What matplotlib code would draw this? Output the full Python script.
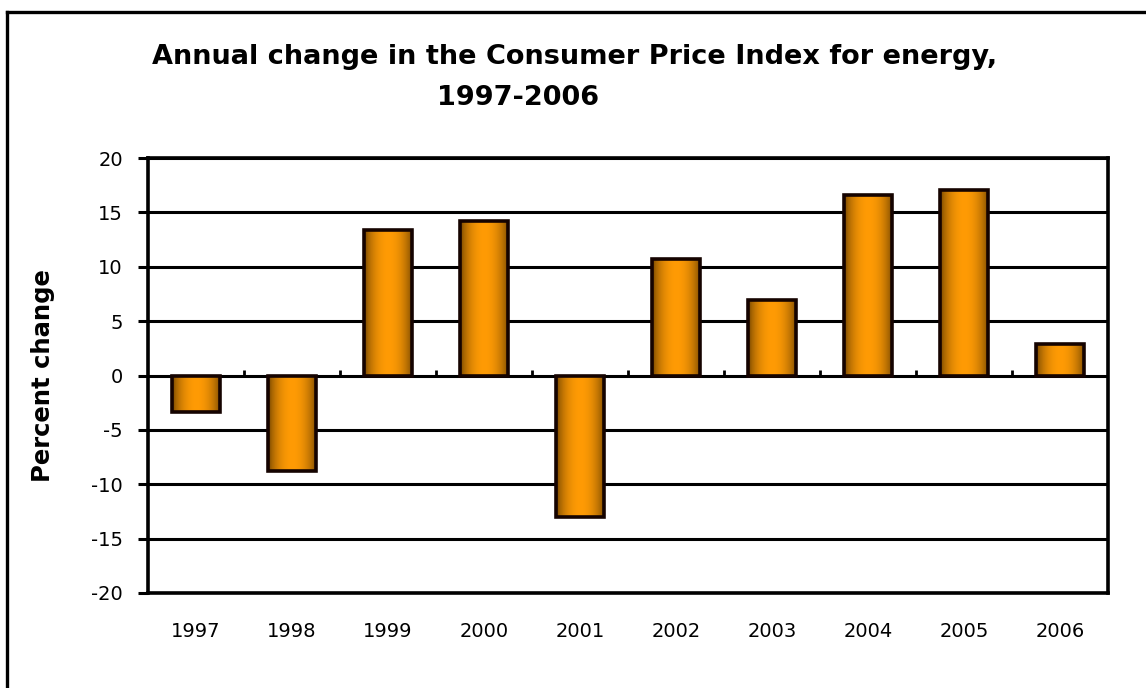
import numpy as np
import matplotlib
matplotlib.use('Agg')
from matplotlib import pyplot as plt
from matplotlib.patches import Rectangle
from matplotlib.lines import Line2D

plt.rcParams['font.family'] = ['DejaVu Sans']

years = ['1997', '1998', '1999', '2000', '2001', '2002', '2003', '2004', '2005', '2006']
change = [-3.4, -8.8, 13.4, 14.2, -13.0, 10.7, 6.9, 16.6, 17.1, 2.9]
yticks = [-20, -15, -10, -5, 0, 5, 10, 15, 20]

W, H = 1146, 688
fig = plt.figure(figsize=(W/100., H/100.), dpi=100)
fig.patch.set_facecolor('white')

# plot area in pixel terms
l, r, t, b = 148, 1108, 158, 593
ax = fig.add_axes([l/W, (H-b)/H, (r-l)/W, (b-t)/H])

n = len(years)
x = np.arange(n)
bw = 0.51

# horizontal gridlines
for yv in yticks:
    ax.axhline(yv, color='black', lw=2.2, zorder=1)

# gradient fill across each bar: dark edges, bright middle
u = np.linspace(0, 1, 64)
prof = np.sin(np.pi*u)**0.6
dark = np.array([100, 60, 0])/255.
bright = np.array([255, 155, 5])/255.
grad = dark[None, :]*(1-prof[:, None]) + bright[None, :]*prof[:, None]
grad = grad[None, :, :]

bars = ax.bar(x, change, width=bw, facecolor='none', edgecolor='#150300', lw=2.6, zorder=4)
for rect in bars:
    x0 = rect.get_x()
    y0 = rect.get_y()
    h = rect.get_height()
    im = ax.imshow(grad, extent=[x0, x0+rect.get_width(), min(y0, y0+h), max(y0, y0+h)],
                   aspect='auto', zorder=3, interpolation='bilinear')
    clip = Rectangle((x0, y0), rect.get_width(), h, transform=ax.transData)
    im.set_clip_path(clip)

ax.set_xlim(-0.5, n-0.5)
ax.set_ylim(-20, 20)

# small upward ticks between categories on the zero line
ax.vlines(np.arange(n-1)+0.5, 0, 0.55, color='black', lw=2, zorder=5)

for s in ax.spines.values():
    s.set_linewidth(2.6)
    s.set_color('black')
    s.set_zorder(6)

ax.set_yticks(yticks)
ax.set_yticklabels([str(v) for v in yticks])
ax.set_xticks(x)
ax.set_xticklabels(years)
ax.tick_params(axis='y', length=7, width=2.2, pad=11, labelsize=14)
ax.tick_params(axis='x', length=0, pad=21, labelsize=14)

ax.set_ylabel('Percent change', fontsize=17.5, fontweight='bold', labelpad=26)

fig.text(575/W, 1-57/H, 'Annual change in the Consumer Price Index for energy,',
         ha='center', va='center', fontsize=19.5, fontweight='bold')
fig.text(518/W, 1-98/H, '1997-2006', ha='center', va='center',
         fontsize=19.5, fontweight='bold')

# outer frame (left and top edges visible)
fig.add_artist(Line2D([7/W, 7/W], [0, 1-12/H], transform=fig.transFigure, color='black', lw=2.4))
fig.add_artist(Line2D([7/W, 1], [1-12/H, 1-12/H], transform=fig.transFigure, color='black', lw=2.4))

fig.savefig('out.png', dpi=100)
